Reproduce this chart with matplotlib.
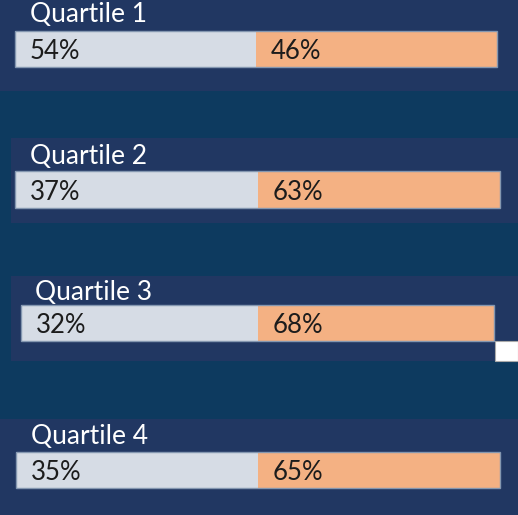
import matplotlib
matplotlib.use("Agg")
import matplotlib.pyplot as plt
from matplotlib.patches import Rectangle

# ---- data ----
quartiles = ["Quartile 1", "Quartile 2", "Quartile 3", "Quartile 4"]
share_a = [54, 37, 32, 35]   # grey segment label
share_b = [46, 63, 68, 65]   # orange segment label
# segments are drawn as equal halves in the original graphic
segment_width = [0.5, 0.5]

# ---- style / layout ----
W, H = 518, 515
BG = "#0d3a5f"
PANEL = "#213762"
GREY = "#d6dce5"
ORANGE = "#f4b183"
EDGE = "#8497b0"
FONT = "Lato"

panels = [(0, 0, 518, 91), (11, 138, 518, 223), (11, 276, 518, 361), (0, 419, 518, 515)]
bars = [(15, 31, 497, 67), (15, 171, 500, 208), (21, 305, 494, 341), (16, 452, 500, 488)]
titles = [(30, 15), (30, 156), (35, 292), (31, 436)]

fig = plt.figure(figsize=(W / 100, H / 100), dpi=100, facecolor=BG)


def fx(x):
    return x / W


def fy(y):
    return 1 - y / H


for i, q in enumerate(quartiles):
    px0, py0, px1, py1 = panels[i]
    fig.patches.append(Rectangle((fx(px0), fy(py1)), fx(px1) - fx(px0), fy(py0) - fy(py1),
                                 transform=fig.transFigure, facecolor=PANEL, edgecolor="none", zorder=-5))
    tx, ty = titles[i]
    fig.text(fx(tx), fy(ty), q, color="white", fontsize=19, family=FONT, va="center", ha="left")

    bx0, by0, bx1, by1 = bars[i]
    ax = fig.add_axes([fx(bx0), fy(by1), fx(bx1) - fx(bx0), fy(by0) - fy(by1)], zorder=2)
    ax.set_xlim(0, sum(segment_width))
    ax.set_ylim(-0.5, 0.5)
    ax.axis("off")
    ax.barh([0], [segment_width[0]], left=[0], height=1.0, color=GREY, edgecolor="none")
    ax.barh([0], [segment_width[1]], left=[segment_width[0]], height=1.0, color=ORANGE, edgecolor="none")
    ax.add_patch(Rectangle((0, -0.5), sum(segment_width), 1.0, fill=False, edgecolor=EDGE, lw=1.0,
                           transform=ax.transData, clip_on=False))
    pad = 0.031
    ax.text(pad, -0.07, f"{share_a[i]}%", color="#1c1c1c", fontsize=18.5, family=FONT, va="center", ha="left")
    ax.text(segment_width[0] + pad, -0.07, f"{share_b[i]}%", color="#1c1c1c", fontsize=18.5, family=FONT,
            va="center", ha="left")

# small white box under bar 3
fig.patches.append(Rectangle((fx(495), fy(361)), fx(518) - fx(495), fy(341) - fy(361),
                             transform=fig.transFigure, facecolor="white", edgecolor="#aaaaaa", lw=0.8, zorder=1))

fig.savefig("out.png", dpi=100, facecolor=BG)
